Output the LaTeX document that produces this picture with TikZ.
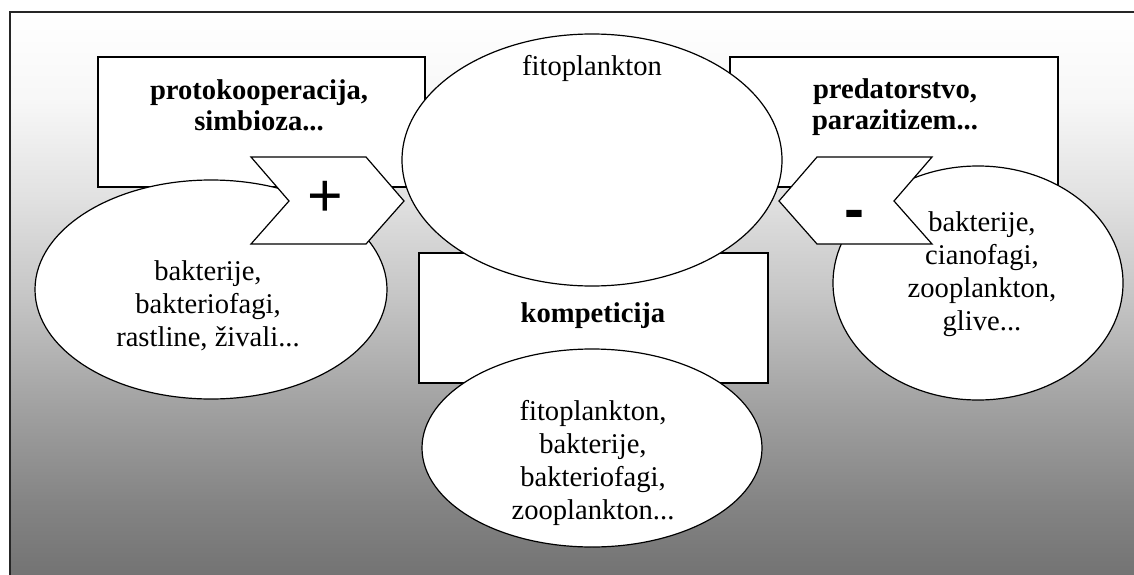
\documentclass[tikz,border=0pt]{standalone}
\usepackage{fontspec}
\setmainfont{Liberation Serif}
\newfontfamily\signfont{Liberation Sans}
\usetikzlibrary{shapes.geometric}
\begin{document}
\begin{tikzpicture}[x=1pt,y=-1pt,line width=1.2pt,
  every node/.style={font=\fontsize{28.6}{33}\selectfont},
  box/.style={draw,fill=white,inner sep=0pt},
  oval/.style={ellipse,draw,fill=white,inner sep=0pt},
  title/.style={align=center,font=\fontsize{28.6}{31}\selectfont\bfseries},
  words/.style={align=center},
  sign/.style={inner sep=0pt}]
\useasboundingbox (0,0) rectangle (1134,575);
\clip (0,0) rectangle (1134,575);
\foreach \ya/\yb/\ca/\cb in {12/100/0/3,100/200/3/12,200/300/12/23,300/400/23/36,400/500/36/48,500/576/48/55}
  \shade[top color=black!\ca,bottom color=black!\cb] (10,\ya) rectangle (1134,\yb+1);
\draw[line width=1.6pt,black!85] (10,12) rectangle (1150,590);
\node[box,minimum width=327pt,minimum height=130pt] (lbox) at (261.5,122) {};
\node[box,minimum width=328pt,minimum height=130pt] (rbox) at (894,122) {};
\node[box,minimum width=349pt,minimum height=130pt] (kbox) at (593.5,318) {};
\node[oval,minimum width=352pt,minimum height=219pt] (left) at (211,289.5) {};
\node[oval,minimum width=290pt,minimum height=234pt] (right) at (978,283) {};
\node[oval,minimum width=380pt,minimum height=252pt] (fito) at (592,160) {};
\node[oval,minimum width=340pt,minimum height=198pt] (bottom) at (592,448) {};
\draw[fill=white] (251,157) -- (366,157) -- (404,201) -- (366,244) -- (251,244) -- (289,201) -- cycle;
\draw[fill=white] (817,157) -- (932,157) -- (894,201) -- (932,244) -- (817,244) -- (779,201) -- cycle;
\node[title] (lboxtext) at (259,105) {protokooperacija,\\simbioza...};
\node[title] (rboxtext) at (895,107) {predatorstvo,\\parazitizem...};
\node[title,anchor=base] (kboxtext) at (593,322) {kompeticija};
\node[anchor=base] (fitotext) at (592,76) {fitoplankton};
\node[words] (lefttext) at (208,305.7) {bakterije,\\bakteriofagi,\\rastline, živali...};
\node[words] (righttext) at (982,274) {bakterije,\\cianofagi,\\zooplankton,\\glive...};
\node[words] (bottomtext) at (593,462.7) {fitoplankton,\\bakterije,\\bakteriofagi,\\zooplankton...};
\node[sign,font=\fontsize{61}{61}\selectfont\signfont] (plus) at (325,199) {+};
\node[sign,anchor=base,font=\fontsize{60}{60}\selectfont\signfont\bfseries] (minus) at (854,229) {-};
\end{tikzpicture}
\end{document}
